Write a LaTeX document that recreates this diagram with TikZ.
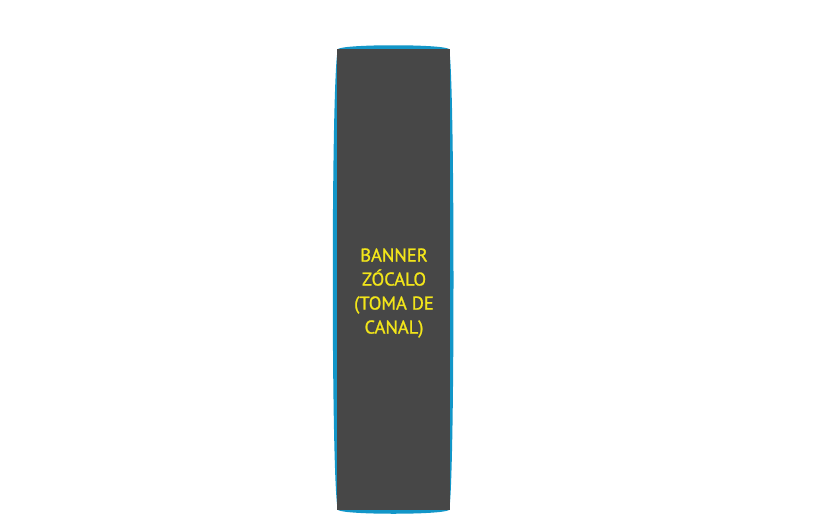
\documentclass[tikz,border=0pt]{standalone}
\usepackage{fontspec}
\setmainfont{PT Sans}[FakeBold=1.2]
\definecolor{bannerblue}{HTML}{1296C8}
\definecolor{bannerdark}{HTML}{474747}
\definecolor{banneryellow}{HTML}{F2E51A}
\begin{document}
\begin{tikzpicture}[x=1pt,y=-1pt,
  bannertext/.style={text=banneryellow,align=center,font=\fontsize{18.5}{24}\selectfont,inner sep=0pt}]
\useasboundingbox (0,0) rectangle (839,523);
\fill[bannerblue] (338,49) .. controls (345,44) and (442,44) .. (449,49)
  .. controls (455,70) and (455,490) .. (449,510)
  .. controls (442,515) and (345,515) .. (338,510)
  .. controls (331,490) and (331,70) .. (338,49) -- cycle;
\fill[bannerdark] (337,49) rectangle (450,510);
\node[bannertext] (t) at (394,293) {BANNER\\ZÓCALO\\(TOMA DE\\CANAL)};
\end{tikzpicture}
\end{document}
